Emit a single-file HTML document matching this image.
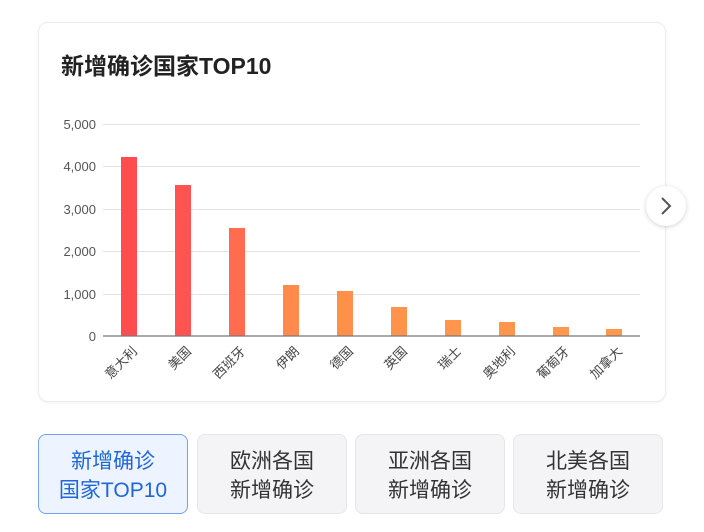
<!DOCTYPE html>
<html><head><meta charset="utf-8"><style>
html,body{margin:0;padding:0;background:#fff;width:704px;height:532px;overflow:hidden;font-family:"Liberation Sans","Noto Sans CJK SC",sans-serif;}
.card{position:absolute;left:38px;top:22px;width:626px;height:378px;border:1px solid #ececec;border-radius:10px;box-shadow:0 1px 3px rgba(0,0,0,0.05);background:#fff;}
.title{position:absolute;left:61px;top:47px;font-size:23px;font-weight:bold;color:#222;}
.next{position:absolute;left:646px;top:186px;width:40px;height:40px;border-radius:50%;background:#fff;box-shadow:0 1px 5px rgba(0,0,0,0.18);}
.tab{position:absolute;top:434px;width:150px;height:80px;border-radius:8px;background:#f4f4f6;border:1px solid #e6e6e8;box-sizing:border-box;color:#333;font-size:21px;line-height:29px;text-align:center;padding-top:12px;}
.sel{background:#edf4ff;border:1.5px solid #6ea2f5;color:#1f66d8;}
svg{position:absolute;left:0;top:0;}
</style></head><body>
<div class="card"></div>
<div class="title">新增确诊国家TOP10</div>
<svg width="704" height="420">
<g stroke="#e3e3e3" stroke-width="1">
<line x1="103" y1="124.5" x2="640" y2="124.5"/>
<line x1="103" y1="166.5" x2="640" y2="166.5"/>
<line x1="103" y1="209.5" x2="640" y2="209.5"/>
<line x1="103" y1="251.5" x2="640" y2="251.5"/>
<line x1="103" y1="294.5" x2="640" y2="294.5"/>
</g>
<g font-size="13" fill="#555" text-anchor="end" font-family="Liberation Sans,sans-serif">
<text x="96" y="129">5,000</text><text x="96" y="171">4,000</text><text x="96" y="214">3,000</text>
<text x="96" y="256">2,000</text><text x="96" y="299">1,000</text><text x="96" y="341">0</text>
</g>
<g>
<rect x="121" y="157" width="16" height="179" fill="#ff4c4f"/>
<rect x="175" y="185" width="16" height="151" fill="#ff5450"/>
<rect x="229" y="228" width="16" height="108" fill="#ff6c4e"/>
<rect x="283" y="285" width="16" height="51" fill="#ff8a4c"/>
<rect x="337" y="291" width="16" height="45" fill="#ff904c"/>
<rect x="391" y="307" width="16" height="29" fill="#ff934c"/>
<rect x="445" y="320" width="16" height="16" fill="#ff964c"/>
<rect x="499" y="322" width="16" height="14" fill="#ff964c"/>
<rect x="553" y="327" width="16" height="9" fill="#ff984c"/>
<rect x="606" y="329" width="16" height="7" fill="#ff984c"/>
</g>
<line x1="103" y1="336" x2="640" y2="336" stroke="#777" stroke-width="1.2"/>
<g font-size="13" fill="#444" text-anchor="end">
<text transform="translate(138,352) rotate(-45)">意大利</text>
<text transform="translate(192,352) rotate(-45)">美国</text>
<text transform="translate(246,352) rotate(-45)">西班牙</text>
<text transform="translate(300,352) rotate(-45)">伊朗</text>
<text transform="translate(354,352) rotate(-45)">德国</text>
<text transform="translate(408,352) rotate(-45)">英国</text>
<text transform="translate(462,352) rotate(-45)">瑞士</text>
<text transform="translate(516,352) rotate(-45)">奥地利</text>
<text transform="translate(570,352) rotate(-45)">葡萄牙</text>
<text transform="translate(623,352) rotate(-45)">加拿大</text>
</g>
</svg>
<div class="next"><svg width="40" height="40"><polyline points="16,12 24,20 16,28" fill="none" stroke="#555" stroke-width="2"/></svg></div>
<div class="tab sel" style="left:38px">新增确诊<br>国家TOP10</div>
<div class="tab" style="left:197px">欧洲各国<br>新增确诊</div>
<div class="tab" style="left:355px">亚洲各国<br>新增确诊</div>
<div class="tab" style="left:513px">北美各国<br>新增确诊</div>
</body></html>
